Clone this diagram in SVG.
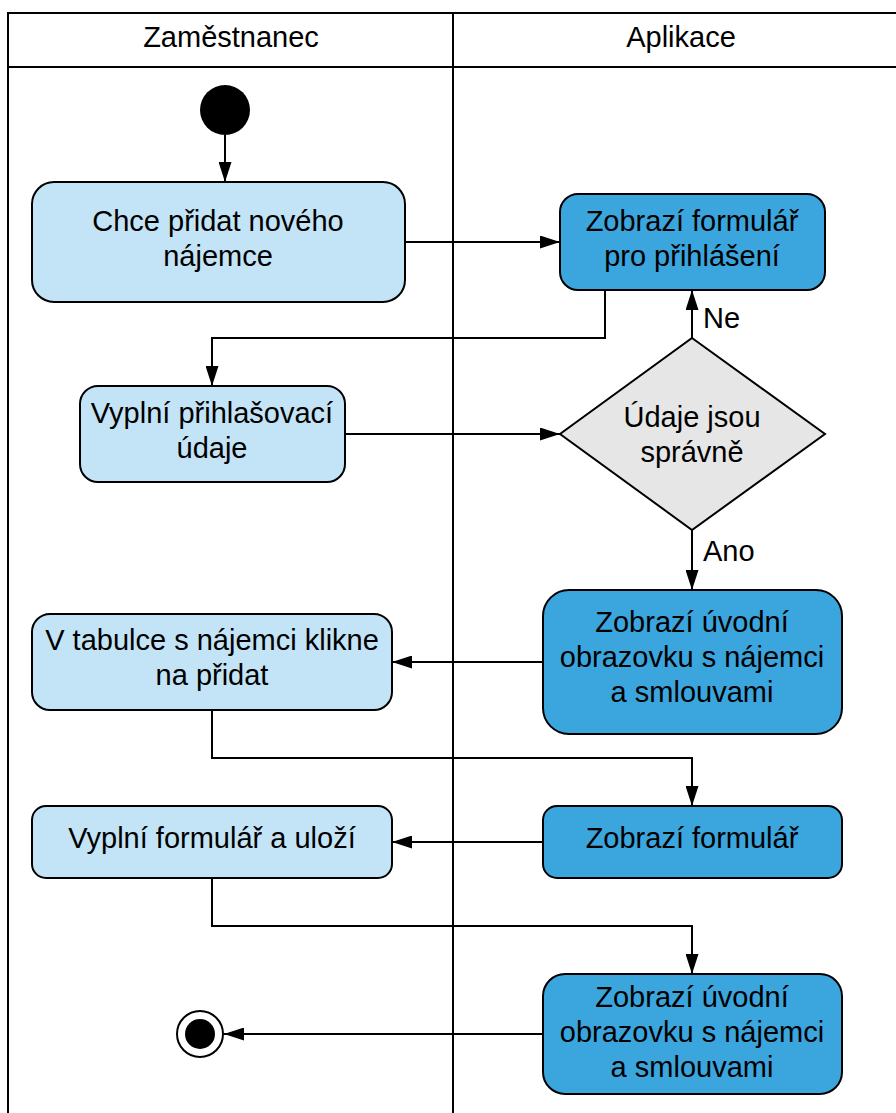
<svg xmlns="http://www.w3.org/2000/svg" width="896" height="1113" viewBox="0 0 896 1113">
  <style>
    .lane { fill: none; stroke: #000; stroke-width: 2; }
    .light { fill: #c3e4f6; stroke: #000; stroke-width: 2; }
    .dark { fill: #3ba5de; stroke: #000; stroke-width: 2; }
    .dec { fill: #e6e6e6; stroke: #000; stroke-width: 2; }
    .edge { fill: none; stroke: #000; stroke-width: 2; }
    text { font-family: "Liberation Sans", Arial, sans-serif; font-size: 29px; fill: #000; text-anchor: middle; }
    .lbl { text-anchor: start; }
  </style>
  <defs>
    <marker id="arrow" viewBox="0 0 20 13" refX="20" refY="6.5" markerWidth="20" markerHeight="13" markerUnits="userSpaceOnUse" orient="auto">
      <path d="M0,0 L20,6.5 L0,13 Z" fill="#000"/>
    </marker>
  </defs>

  <!-- swimlanes -->
  <g id="lanes">
    <rect x="0" y="0" width="896" height="1113" fill="#fff"/>
    <path class="lane" d="M8,1113 V13 H896 M8,67 H896 M453,13 V1113"/>
    <text x="231" y="47">Zaměstnanec</text>
    <text x="681" y="47">Aplikace</text>
  </g>

  <!-- connectors -->
  <g id="connectors">
    <path class="edge" marker-end="url(#arrow)" d="M225,135 V182"/>
    <path class="edge" marker-end="url(#arrow)" d="M405,242 H560"/>
    <path class="edge" marker-end="url(#arrow)" d="M605,290 V338 H212 V386"/>
    <path class="edge" marker-end="url(#arrow)" d="M345,434 H560"/>
    <path class="edge" marker-end="url(#arrow)" d="M692,338 V290"/>
    <text class="lbl" x="703" y="328">Ne</text>
    <path class="edge" marker-end="url(#arrow)" d="M692,530 V590"/>
    <text class="lbl" x="703" y="561">Ano</text>
    <path class="edge" marker-end="url(#arrow)" d="M543,662 H392"/>
    <path class="edge" marker-end="url(#arrow)" d="M212,710 V758 H692 V806"/>
    <path class="edge" marker-end="url(#arrow)" d="M543,842 H392"/>
    <path class="edge" marker-end="url(#arrow)" d="M212,878 V926 H692 V974"/>
    <path class="edge" marker-end="url(#arrow)" d="M543,1034 H224"/>
  </g>

  <g id="start">
    <circle cx="225" cy="110" r="25" fill="#000"/>
  </g>

  <g id="n1">
    <rect class="light" x="32" y="182" width="373" height="120" rx="22"/>
    <text x="218" y="231">Chce přidat nového</text>
    <text x="218" y="266">nájemce</text>
  </g>

  <g id="n2">
    <rect class="dark" x="560" y="194" width="265" height="96" rx="18"/>
    <text x="692" y="231">Zobrazí formulář</text>
    <text x="692" y="266">pro přihlášení</text>
  </g>

  <g id="n3">
    <rect class="light" x="80" y="386" width="265" height="96" rx="18"/>
    <text x="212" y="423">Vyplní přihlašovací</text>
    <text x="212" y="458">údaje</text>
  </g>

  <g id="n4">
    <polygon class="dec" points="692,338 825,434 692,530 560,434"/>
    <text x="692" y="427">Údaje jsou</text>
    <text x="692" y="462">správně</text>
  </g>

  <g id="n5">
    <rect class="dark" x="543" y="590" width="299" height="144" rx="26"/>
    <text x="692" y="632">Zobrazí úvodní</text>
    <text x="692" y="667">obrazovku s nájemci</text>
    <text x="692" y="702">a smlouvami</text>
  </g>

  <g id="n6">
    <rect class="light" x="32" y="614" width="360" height="96" rx="18"/>
    <text x="212" y="650">V tabulce s nájemci klikne</text>
    <text x="212" y="685">na přidat</text>
  </g>

  <g id="n7">
    <rect class="dark" x="543" y="806" width="299" height="72" rx="14"/>
    <text x="692" y="848">Zobrazí formulář</text>
  </g>

  <g id="n8">
    <rect class="light" x="32" y="806" width="360" height="72" rx="14"/>
    <text x="212" y="848">Vyplní formulář a uloží</text>
  </g>

  <g id="n9">
    <rect class="dark" x="543" y="974" width="299" height="120" rx="22"/>
    <text x="692" y="1007">Zobrazí úvodní</text>
    <text x="692" y="1042">obrazovku s nájemci</text>
    <text x="692" y="1077">a smlouvami</text>
  </g>

  <g id="end">
    <circle cx="200" cy="1034" r="23" fill="#fff" stroke="#000" stroke-width="2"/>
    <circle cx="200" cy="1034" r="15" fill="#000"/>
  </g>
</svg>
